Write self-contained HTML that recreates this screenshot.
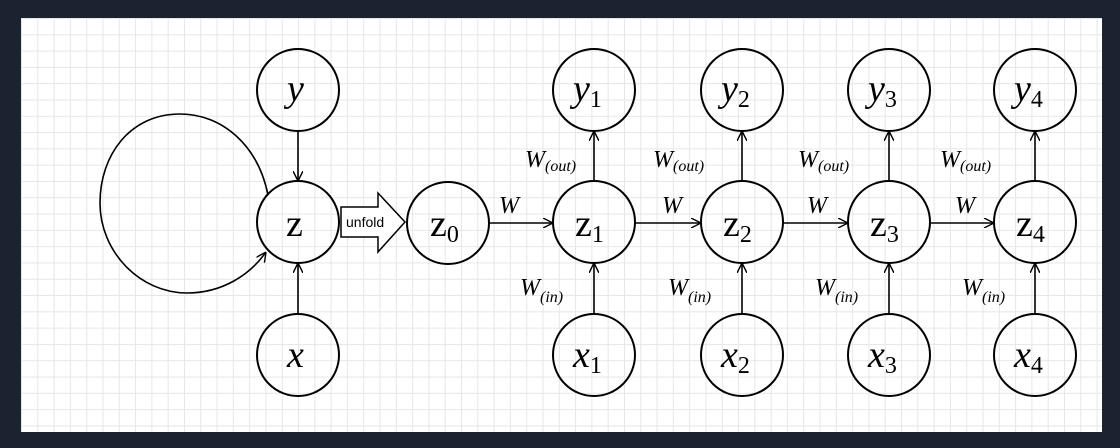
<!DOCTYPE html>
<html><head><style>
html,body{margin:0;padding:0;width:1120px;height:448px;overflow:hidden;background:#1b2230;}
.panel{position:absolute;left:21px;top:18px;width:1081px;height:414px;background-color:#fff;
background-image:linear-gradient(#e6e6e6 1px,transparent 1px),linear-gradient(90deg,#e6e6e6 1px,transparent 1px);
background-size:16.3px 16.3px;}
svg{position:absolute;left:0;top:0}
text{font-family:"Liberation Serif",serif;font-style:italic;fill:#000}
.n{font-size:38px}
.z{font-style:normal;font-size:38px}
.s{font-size:24px;font-style:normal}
.w{font-size:24px}
.ws{font-size:16px}
</style></head><body>
<div class="panel"></div>
<svg width="1120" height="448" viewBox="0 0 1120 448">
<defs><marker id="a" viewBox="0 0 10 10" refX="10" refY="5" markerWidth="10" markerHeight="10" orient="auto" markerUnits="userSpaceOnUse"><path d="M0,0 L10,5 L0,10" fill="none" stroke="#000" stroke-width="1.4"/></marker></defs>
<g fill="none" stroke="#000" stroke-width="2">
<circle cx="298" cy="90" r="41"/><circle cx="298" cy="222" r="41"/><circle cx="298" cy="355" r="41"/>
<circle cx="448" cy="223" r="41"/>
<circle cx="594" cy="90" r="41"/><circle cx="594" cy="222" r="41"/><circle cx="594" cy="355" r="41"/>
<circle cx="742" cy="90" r="41"/><circle cx="742" cy="222" r="41"/><circle cx="742" cy="355" r="41"/>
<circle cx="889" cy="90" r="41"/><circle cx="889" cy="222" r="41"/><circle cx="889" cy="355" r="41"/>
<circle cx="1035" cy="90" r="41"/><circle cx="1035" cy="222" r="41"/><circle cx="1035" cy="355" r="41"/>
</g>
<g stroke="#000" stroke-width="1.6" fill="none" marker-end="url(#a)">
<line x1="298" y1="131" x2="298" y2="181"/>
<line x1="298" y1="314" x2="298" y2="263"/>
<path d="M268,195 C258,145 222,114 180,114 C130,114 100,155 100,203 C100,252 140,293 187,293 C222,293 250,275 266,252"/>
<line x1="489" y1="223" x2="553" y2="223"/>
<line x1="635" y1="223" x2="701" y2="223"/>
<line x1="783" y1="223" x2="848" y2="223"/>
<line x1="930" y1="223" x2="994" y2="223"/>
<line x1="594" y1="181" x2="594" y2="131"/><line x1="594" y1="314" x2="594" y2="263"/>
<line x1="742" y1="181" x2="742" y2="131"/><line x1="742" y1="314" x2="742" y2="263"/>
<line x1="889" y1="181" x2="889" y2="131"/><line x1="889" y1="314" x2="889" y2="263"/>
<line x1="1035" y1="181" x2="1035" y2="131"/><line x1="1035" y1="314" x2="1035" y2="263"/>
</g>
<path d="M341,207 L378,207 L378,193 L405,222 L378,252 L378,237 L341,237 Z" fill="#fff" stroke="#000" stroke-width="1.5"/>
<text x="346" y="227" style="font-family:'Liberation Sans',sans-serif;font-style:normal;font-size:14px">unfold</text>
<text class="n" x="287" y="101">y</text>
<text class="z" x="286" y="236">z</text>
<text class="n" x="287" y="367">x</text>
<text class="z" x="430" y="236">z<tspan class="s" dy="6">0</tspan></text>
<text class="n" x="573" y="101">y<tspan class="s" dy="6">1</tspan></text>
<text class="z" x="575" y="236">z<tspan class="s" dy="6">1</tspan></text>
<text class="n" x="573" y="367">x<tspan class="s" dy="6">1</tspan></text>
<text class="n" x="721" y="101">y<tspan class="s" dy="6">2</tspan></text>
<text class="z" x="723" y="236">z<tspan class="s" dy="6">2</tspan></text>
<text class="n" x="721" y="367">x<tspan class="s" dy="6">2</tspan></text>
<text class="n" x="868" y="101">y<tspan class="s" dy="6">3</tspan></text>
<text class="z" x="870" y="236">z<tspan class="s" dy="6">3</tspan></text>
<text class="n" x="868" y="367">x<tspan class="s" dy="6">3</tspan></text>
<text class="n" x="1014" y="101">y<tspan class="s" dy="6">4</tspan></text>
<text class="z" x="1016" y="236">z<tspan class="s" dy="6">4</tspan></text>
<text class="n" x="1014" y="367">x<tspan class="s" dy="6">4</tspan></text>
<text class="w" x="499" y="213">W</text>
<text class="w" x="662" y="213">W</text>
<text class="w" x="807" y="213">W</text>
<text class="w" x="955" y="213">W</text>
<text class="w" x="525" y="167">W<tspan class="ws" dy="4">(out)</tspan></text>
<text class="w" x="653" y="167">W<tspan class="ws" dy="4">(out)</tspan></text>
<text class="w" x="798" y="167">W<tspan class="ws" dy="4">(out)</tspan></text>
<text class="w" x="940" y="167">W<tspan class="ws" dy="4">(out)</tspan></text>
<text class="w" x="520" y="295">W<tspan class="ws" dy="7">(in)</tspan></text>
<text class="w" x="668" y="295">W<tspan class="ws" dy="7">(in)</tspan></text>
<text class="w" x="815" y="295">W<tspan class="ws" dy="7">(in)</tspan></text>
<text class="w" x="962" y="295">W<tspan class="ws" dy="7">(in)</tspan></text>
</svg>
</body></html>
